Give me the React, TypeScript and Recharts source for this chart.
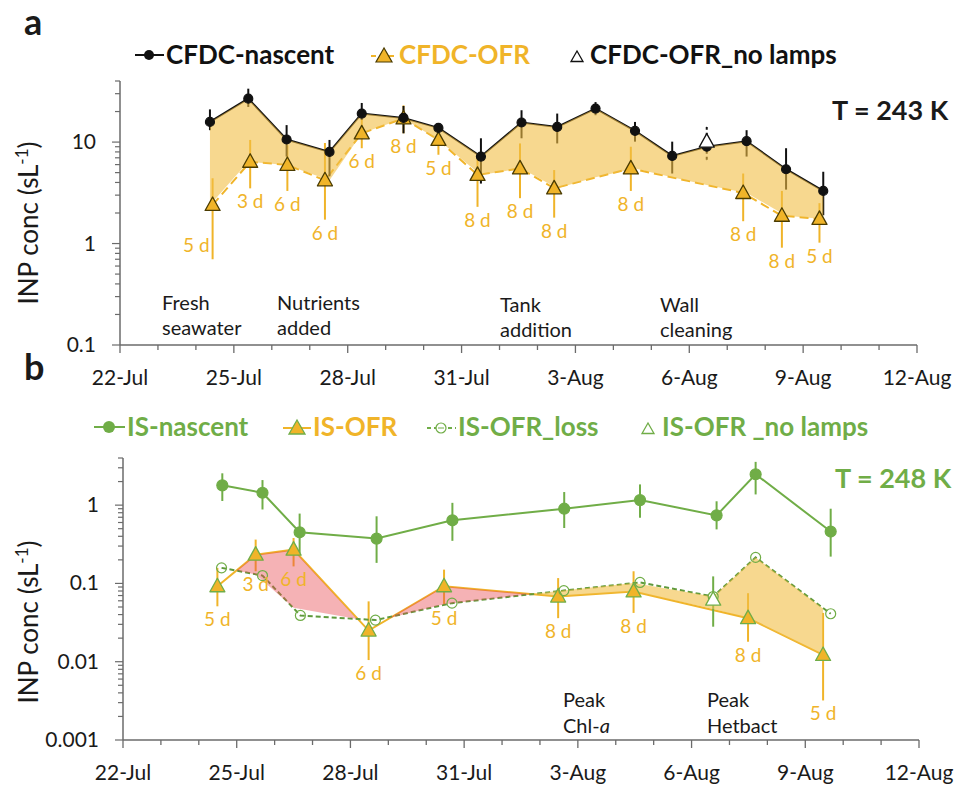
import React from "react";
import {
  Area,
  ComposedChart,
  ErrorBar,
  LabelList,
  Legend,
  Line,
  XAxis,
  YAxis,
} from "recharts";

const FONT = "Lato, 'Open Sans', sans-serif";
const INK = "#1a1a1a";
const AXIS = "#6b6b6b";
const GOLD = "#F0B429";
const GREEN = "#70AD47";

// shared x axis (day of July; 32 = 1-Aug)
const dayTicks = [22, 23, 24, 25, 26, 27, 28, 29, 30, 31, 32, 33, 34, 35, 36, 37, 38, 39, 40, 41, 42, 43];
const dayMajors = [22, 25, 28, 31, 34, 37, 40, 43];
const dayLabels = ["22-Jul", "25-Jul", "28-Jul", "31-Jul", "3-Aug", "6-Aug", "9-Aug", "12-Aug"];

// log y ticks
const aTicks = [0.1, 0.2, 0.3, 0.4, 0.5, 0.6, 0.7, 0.8, 0.9, 1, 2, 3, 4, 5, 6, 7, 8, 9, 10, 20, 30, 40];
const aMajors = [0.1, 1, 10];
const bTicks = [
  0.001, 0.002, 0.003, 0.004, 0.005, 0.006, 0.007, 0.008, 0.009,
  0.01, 0.02, 0.03, 0.04, 0.05, 0.06, 0.07, 0.08, 0.09,
  0.1, 0.2, 0.3, 0.4, 0.5, 0.6, 0.7, 0.8, 0.9, 1, 2, 3, 4,
];
const bMajors = [0.001, 0.01, 0.1, 1];

// panel a: CFDC, T = 243 K
const aNascentDays = [24.37, 25.38, 26.39, 27.52, 28.37, 29.47, 30.39, 31.51, 32.58, 33.52, 34.53, 35.57, 36.55, 37.46, 38.51, 39.55, 40.53];
const aNascent = [15.8, 26.8, 10.6, 8.0, 19.1, 17.3, 13.8, 7.2, 15.6, 14.1, 21.4, 12.9, 7.3, 9.0, 10.2, 5.4, 3.3];
const aNascentLo = [13.1, 22.2, 7.2, 4.6, 16.5, 12.2, 12.2, 3.9, 10.9, 9.7, 18.4, 10.1, 4.9, null, 7.2, 3.4, 1.9];
const aNascentHi = [21, 33.6, 14.7, 10.5, 24.3, 22.7, 15.2, 10.9, 20.6, 19.1, 24.8, 15.8, 10.1, null, 13.1, 8.7, 5.1];

const aOfrDays = [24.44, 25.43, 26.41, 27.4, 28.37, 29.47, 30.39, 31.42, 32.54, 33.44, 35.46, 38.42, 39.44, 40.43];
const aOfr = [2.4, 6.4, 5.95, 4.2, 12.2, 17.1, 10.5, 4.75, 5.5, 3.5, 5.5, 3.15, 1.88, 1.75];
const aOfrLo = [0.7, 3.5, 3.3, 1.72, 8.7, 12.2, 7.5, 2.3, 2.8, 1.8, 3.3, 1.66, 0.91, 1.02];
const aOfrHi = [4.4, 10.5, 9.3, 9.8, 17, 23, 11.7, 7.2, 9.7, 5.3, 9.0, 4.9, 3.3, 2.5];
const aOfrAge = ["5 d", "3 d", "6 d", "6 d", "6 d", "8 d", "5 d", "8 d", "8 d", "8 d", "8 d", "8 d", "8 d", "5 d"];

const aNoLampDays = [37.46];
const aNoLamp = [10.1];
const aNoLampLo = [6.7];
const aNoLampHi = [14.1];

// shaded loss band, read at the nascent dates
const aBandLow = [2.4, 6.4, 5.95, 4.2, 12.2, 17.1, 10.5, 4.75, 5.5, 3.5, 4.5, 5.5, 4.5, 3.77, 3.15, 1.88, 1.75];

// panel b: IS, T = 248 K
const bNascentDays = [24.62, 25.68, 26.66, 28.69, 30.69, 33.64, 35.64, 37.66, 38.69, 40.67];
const bNascent = [1.79, 1.44, 0.45, 0.374, 0.64, 0.9, 1.16, 0.74, 2.48, 0.46];
const bNascentLo = [1.13, 0.88, 0.245, 0.183, 0.35, 0.51, 0.69, 0.49, 1.37, 0.22];
const bNascentHi = [2.55, 2.09, 0.78, 0.72, 1.07, 1.47, 1.84, 1.12, 3.57, 0.9];

const bOfrDays = [24.49, 25.5, 26.5, 28.48, 30.47, 33.48, 35.47, 38.49, 40.47];
const bOfr = [0.092, 0.233, 0.27, 0.025, 0.092, 0.068, 0.079, 0.036, 0.0122];
const bOfrLo = [0.051, 0.143, 0.165, 0.0105, 0.053, 0.036, 0.042, 0.018, 0.0032];
const bOfrHi = [0.158, 0.363, 0.38, 0.059, 0.15, 0.117, 0.143, 0.075, 0.042];
const bOfrAge = ["5 d", "3 d", "6 d", "6 d", "5 d", "8 d", "8 d", "8 d", "5 d"];

const bLossDays = [24.6, 25.68, 26.68, 28.66, 30.68, 33.63, 35.64, 37.57, 38.69, 40.67];
const bLoss = [0.158, 0.126, 0.039, 0.034, 0.056, 0.081, 0.103, 0.068, 0.215, 0.041];

const bNoLampDays = [37.57];
const bNoLamp = [0.062];
const bNoLampLo = [0.028];
const bNoLampHi = [0.123];

// filled gaps between IS-OFR and IS-OFR_loss
const bPinkDays = [24.99, 25.5, 26.5, 28.17, 28.48, 29.01, 30.47, 32.78];
const bPinkLow = [0.146, 0.13, 0.049, 0.035, null, 0.036, 0.054, 0.073];
const bPinkHigh = [0.146, 0.233, 0.27, 0.035, null, 0.036, 0.092, 0.073];
const bYellowDays = [32.78, 33.48, 35.47, 37.57, 38.49, 38.69, 40.47];
const bYellowLow = [0.073, 0.068, 0.079, 0.047, 0.036, 0.032, 0.0122];
const bYellowHigh = [0.073, 0.08, 0.101, 0.068, 0.176, 0.215, 0.048];

const series = (
  days: number[],
  vals: number[],
  lo?: (number | null)[],
  hi?: (number | null)[],
  age?: string[]
) =>
  days.map((day, i) => {
    const l = lo ? lo[i] : null;
    const h = hi ? hi[i] : null;
    return {
      day,
      v: vals[i],
      err: l != null && h != null ? [vals[i] - l, h - vals[i]] : null,
      lo: l,
      age: age ? age[i] : null,
    };
  });

const band = (days: number[], low: (number | null)[], high: (number | null)[]) =>
  days.map((day, i) => ({
    day,
    range: low[i] == null || high[i] == null ? null : [low[i], high[i]],
  }));

const aNascentData = series(aNascentDays, aNascent, aNascentLo, aNascentHi);
const aOfrData = series(aOfrDays, aOfr, aOfrLo, aOfrHi, aOfrAge);
const aNoLampData = series(aNoLampDays, aNoLamp, aNoLampLo, aNoLampHi);
const aBandData = band(aNascentDays, aBandLow, aNascent);

const bNascentData = series(bNascentDays, bNascent, bNascentLo, bNascentHi);
const bOfrData = series(bOfrDays, bOfr, bOfrLo, bOfrHi, bOfrAge);
const bLossData = series(bLossDays, bLoss);
const bNoLampData = series(bNoLampDays, bNoLamp, bNoLampLo, bNoLampHi);
const bPinkData = band(bPinkDays, bPinkLow, bPinkHigh);
const bYellowData = band(bYellowDays, bYellowLow, bYellowHigh);

const isMajor = (v: number, majors: number[]) =>
  majors.some((m) => Math.abs(m - v) < m * 1e-6);

const renderXTick = (props: any) => {
  const { x, y, payload } = props;
  const idx = dayMajors.indexOf(payload.value);
  return (
    <g>
      <line x1={x} y1={y} x2={x} y2={y + (idx >= 0 ? 8 : 5)} stroke={AXIS} strokeWidth={1.3} />
      {idx >= 0 && (
        <text x={x} y={y + 40} textAnchor="middle" fontSize={21} fill={INK} fontFamily={FONT}>
          {dayLabels[idx]}
        </text>
      )}
    </g>
  );
};

const renderYTick = (majors: number[]) => (props: any) => {
  const { x, y, payload } = props;
  const major = isMajor(payload.value, majors);
  return (
    <g>
      <line x1={x} y1={y} x2={x - (major ? 8 : 5)} y2={y} stroke={AXIS} strokeWidth={1.2} />
      {major && (
        <text x={x - 24} y={y + 7} textAnchor="end" fontSize={21} fill={INK} fontFamily={FONT}>
          {String(payload.value)}
        </text>
      )}
    </g>
  );
};

const yLabel = (shift: number) => (props: any) => {
  const vb = props.viewBox || {};
  const cx = 29;
  const cy = vb.y + vb.height / 2 + shift;
  return (
    <text
      x={cx}
      y={cy + 9}
      transform={`rotate(-90, ${cx}, ${cy})`}
      textAnchor="middle"
      fontSize={26}
      fill={INK}
      fontFamily={FONT}
    >
      INP conc (sL
      <tspan dy={-10} fontSize={17}>-1</tspan>
      <tspan dy={10}>)</tspan>
    </text>
  );
};

const circleDot = (r: number, fill: string, stroke: string) => (p: any) =>
  p.cx == null || p.cy == null ? (
    <g key={p.index} />
  ) : (
    <circle key={p.index} cx={p.cx} cy={p.cy} r={r} fill={fill} stroke={stroke} strokeWidth={1.2} />
  );

const triangleDot = (fill: string, stroke: string) => (p: any) =>
  p.cx == null || p.cy == null ? (
    <g key={p.index} />
  ) : (
    <polygon
      key={p.index}
      points={`${p.cx},${p.cy - 8} ${p.cx - 7.5},${p.cy + 5.5} ${p.cx + 7.5},${p.cy + 5.5}`}
      fill={fill}
      stroke={stroke}
      strokeWidth={1.3}
      strokeLinejoin="round"
    />
  );

const ageLabel = (color: string, firstLeft: boolean) => (props: any) => {
  const vb = props.viewBox || {};
  const x = props.x ?? vb.x;
  const y = props.y ?? vb.y;
  if (x == null || y == null || props.value == null) return null;
  const left = firstLeft && props.index === 0;
  return (
    <text
      x={left ? x - 3 : x}
      y={left ? y - 7 : y + 20}
      textAnchor={left ? "end" : "middle"}
      fontSize={19}
      fill={color}
      fontFamily={FONT}
    >
      {props.value}
    </text>
  );
};

const tri = (cx: number, cy: number, s: number) =>
  `${cx},${cy - s} ${cx - s},${cy + s * 0.75} ${cx + s},${cy + s * 0.75}`;

const LegendA = () => (
  <svg width={956} height={80} style={{ position: "absolute", left: 0, top: 0, overflow: "visible" }}>
    <g fontFamily={FONT} fontSize={26} fontWeight={700}>
      <line x1={135} x2={164} y1={55} y2={55} stroke="#111" strokeWidth={2} />
      <circle cx={149} cy={55} r={5} fill="#111" />
      <text x={166} y={64} fill="#111">CFDC-nascent</text>
      <line x1={371} x2={398} y1={56} y2={56} stroke={GOLD} strokeWidth={2} strokeDasharray="5 4" />
      <polygon points={tri(384, 56, 8)} fill={GOLD} stroke="#4a3b00" strokeWidth={1.2} />
      <text x={399} y={64} fill={GOLD}>CFDC-OFR</text>
      <polygon points={tri(577, 57, 6)} fill="#fff" stroke="#111" strokeWidth={1.3} />
      <text x={590} y={64} fill="#111">CFDC-OFR_no lamps</text>
    </g>
  </svg>
);

const LegendB = () => (
  <svg width={956} height={80} style={{ position: "absolute", left: 0, top: 0, overflow: "visible" }}>
    <g fontFamily={FONT} fontSize={26} fontWeight={700}>
      <line x1={94} x2={125} y1={37} y2={37} stroke={GREEN} strokeWidth={2} />
      <circle cx={109} cy={37} r={6} fill={GREEN} />
      <text x={127} y={46} fill={GREEN}>IS-nascent</text>
      <line x1={283} x2={311} y1={38} y2={38} stroke={GOLD} strokeWidth={2} />
      <polygon points={tri(297, 38, 8)} fill={GOLD} stroke={GREEN} strokeWidth={1.3} />
      <text x={313} y={46} fill={GOLD}>IS-OFR</text>
      <line x1={427} x2={456} y1={38} y2={38} stroke={GREEN} strokeWidth={2} strokeDasharray="4 3" />
      <circle cx={441} cy={38} r={5} fill="#fff" stroke={GREEN} strokeWidth={1.2} />
      <line x1={438} x2={444} y1={38} y2={38} stroke={GREEN} strokeWidth={1} />
      <text x={458} y={46} fill={GREEN}>IS-OFR_loss</text>
      <polygon points={tri(648, 39, 6)} fill="#fff" stroke={GREEN} strokeWidth={1.3} />
      <text x={662} y={46} fill={GREEN}>IS-OFR _no lamps</text>
    </g>
  </svg>
);

const axisLine = { stroke: AXIS, strokeWidth: 1.5 };

function PanelA() {
  return (
    <ComposedChart width={956} height={390} margin={{ top: 81, right: 39, bottom: 15, left: 0 }}>
      <XAxis
        dataKey="day"
        type="number"
        domain={[22, 43]}
        allowDataOverflow
        ticks={dayTicks}
        interval={0}
        tick={renderXTick}
        tickLine={false}
        tickSize={0}
        tickMargin={0}
        axisLine={axisLine}
        height={30}
      />
      <YAxis
        type="number"
        scale="log"
        domain={[0.1, 40]}
        allowDataOverflow
        ticks={aTicks}
        interval={0}
        tick={renderYTick(aMajors)}
        tickLine={false}
        tickSize={0}
        tickMargin={0}
        axisLine={axisLine}
        width={120}
        label={yLabel(10)}
      />
      <Legend verticalAlign="top" content={LegendA} wrapperStyle={{ left: 0, top: 0, width: 956, height: 0 }} />
      <Line
        data={aOfrData}
        dataKey="v"
        stroke={GOLD}
        strokeWidth={2}
        strokeDasharray="9 5"
        dot={triangleDot(GOLD, "#4a3b00")}
        activeDot={false}
        isAnimationActive={false}
      >
        <ErrorBar dataKey="err" width={0} stroke={GOLD} strokeWidth={2} direction="y" />
      </Line>
      <Line
        data={aNascentData}
        dataKey="v"
        stroke="#111"
        strokeWidth={2}
        dot={circleDot(4.5, "#111", "#111")}
        activeDot={false}
        isAnimationActive={false}
      >
        <ErrorBar dataKey="err" width={0} stroke="#111" strokeWidth={2} direction="y" />
      </Line>
      <Line
        data={aNoLampData}
        dataKey="v"
        stroke="none"
        dot={triangleDot("#fff", "#111")}
        activeDot={false}
        isAnimationActive={false}
      >
        <ErrorBar dataKey="err" width={0} stroke="#111" strokeWidth={2} strokeDasharray="3 3" direction="y" />
      </Line>
      <Area
        data={aBandData}
        dataKey="range"
        stroke="none"
        fill="#F2BE45"
        fillOpacity={0.6}
        dot={false}
        activeDot={false}
        isAnimationActive={false}
        zIndex={450}
      />
      <Line data={aOfrData} dataKey="lo" stroke="none" dot={false} activeDot={false} isAnimationActive={false}>
        <LabelList dataKey="age" content={ageLabel(GOLD, true)} />
      </Line>
    </ComposedChart>
  );
}

function PanelB() {
  return (
    <ComposedChart width={956} height={395} margin={{ top: 68, right: 37, bottom: 15, left: 0 }}>
      <XAxis
        dataKey="day"
        type="number"
        domain={[22, 43]}
        allowDataOverflow
        ticks={dayTicks}
        interval={0}
        tick={renderXTick}
        tickLine={false}
        tickSize={0}
        tickMargin={0}
        axisLine={axisLine}
        height={30}
      />
      <YAxis
        type="number"
        scale="log"
        domain={[0.001, 4]}
        allowDataOverflow
        ticks={bTicks}
        interval={0}
        tick={renderYTick(bMajors)}
        tickLine={false}
        tickSize={0}
        tickMargin={0}
        axisLine={axisLine}
        width={123}
        label={yLabel(23)}
      />
      <Legend verticalAlign="top" content={LegendB} wrapperStyle={{ left: 0, top: 0, width: 956, height: 0 }} />
      <Line
        data={bNascentData}
        dataKey="v"
        stroke={GREEN}
        strokeWidth={2}
        dot={circleDot(5.5, GREEN, GREEN)}
        activeDot={false}
        isAnimationActive={false}
      >
        <ErrorBar dataKey="err" width={0} stroke={GREEN} strokeWidth={2} direction="y" />
      </Line>
      <Line
        data={bOfrData}
        dataKey="v"
        stroke={GOLD}
        strokeWidth={2}
        dot={triangleDot(GOLD, GREEN)}
        activeDot={false}
        isAnimationActive={false}
      >
        <ErrorBar dataKey="err" width={0} stroke={GOLD} strokeWidth={2} direction="y" />
      </Line>
      <Line
        data={bLossData}
        dataKey="v"
        stroke="#5f9a3c"
        strokeWidth={2}
        strokeDasharray="5 3"
        dot={circleDot(5, "none", GREEN)}
        activeDot={false}
        isAnimationActive={false}
      />
      <Line
        data={bNoLampData}
        dataKey="v"
        stroke="none"
        dot={triangleDot("#fff", GREEN)}
        activeDot={false}
        isAnimationActive={false}
      >
        <ErrorBar dataKey="err" width={0} stroke={GREEN} strokeWidth={2} direction="y" />
      </Line>
      <Area
        data={bPinkData}
        dataKey="range"
        stroke="none"
        fill="#E8474F"
        fillOpacity={0.42}
        dot={false}
        activeDot={false}
        isAnimationActive={false}
        zIndex={450}
      />
      <Area
        data={bYellowData}
        dataKey="range"
        stroke="none"
        fill="#F2BE45"
        fillOpacity={0.6}
        dot={false}
        activeDot={false}
        isAnimationActive={false}
        zIndex={450}
      />
      <Line data={bOfrData} dataKey="lo" stroke="none" dot={false} activeDot={false} isAnimationActive={false}>
        <LabelList dataKey="age" content={ageLabel(GOLD, false)} />
      </Line>
    </ComposedChart>
  );
}

export default function App() {
  return (
    <div style={{ position: "absolute", left: 0, top: 0, width: 956, height: 785, background: "#fff", overflow: "hidden" }}>
      <div style={{ position: "absolute", left: 0, top: 0 }}>
        <PanelA />
      </div>
      <div style={{ position: "absolute", left: 0, top: 390 }}>
        <PanelB />
      </div>
      <svg
        width={956}
        height={785}
        style={{ position: "absolute", left: 0, top: 0, pointerEvents: "none" }}
        fontFamily={FONT}
      >
        <text x={24} y={35} fontSize={36} fontWeight={700} fill={INK}>a</text>
        <text x={24} y={380} fontSize={36} fontWeight={700} fill={INK}>b</text>
        <text x={832} y={120} fontSize={27} fontWeight={700} fill={INK}>T = 243 K</text>
        <text x={835} y={488} fontSize={27} fontWeight={700} fill={GREEN}>T = 248 K</text>
        <g fontSize={20} fill={INK}>
          <text x={162} y={310}>Fresh</text>
          <text x={162} y={335}>seawater</text>
          <text x={277} y={310}>Nutrients</text>
          <text x={277} y={335}>added</text>
          <text x={500} y={312}>Tank</text>
          <text x={500} y={337}>addition</text>
          <text x={660} y={312}>Wall</text>
          <text x={660} y={337}>cleaning</text>
          <text x={563} y={707}>Peak</text>
          <text x={563} y={733}>
            Chl-<tspan fontStyle="italic">a</tspan>
          </text>
          <text x={707} y={707}>Peak</text>
          <text x={707} y={733}>Hetbact</text>
        </g>
      </svg>
    </div>
  );
}
